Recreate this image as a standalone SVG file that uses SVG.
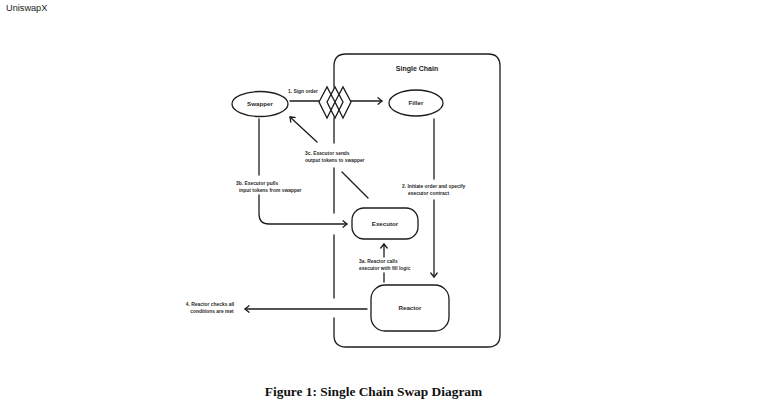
<svg xmlns="http://www.w3.org/2000/svg" width="761" height="403" viewBox="0 0 761 403">
<style>
.ln{fill:none;stroke:#1c1c1c;stroke-width:1.3;stroke-linecap:round}
.nd{fill:#fff;stroke:#1c1c1c;stroke-width:1.3}
.nl{font-family:"Liberation Sans",Arial,sans-serif;font-size:6.2px;font-weight:bold;fill:#2a2a2a;text-anchor:middle}
.lb{font-family:"Liberation Sans",Arial,sans-serif;font-size:4.9px;font-weight:bold;fill:#2a2a2a}
.ttl{font-family:"Liberation Sans",Arial,sans-serif;font-size:7px;font-weight:bold;fill:#1c1c1c;text-anchor:middle}
</style>
<defs>
<marker id="ah" viewBox="0 0 10 10" refX="9" refY="5" markerWidth="8" markerHeight="8" markerUnits="userSpaceOnUse" orient="auto">
<path d="M4,1 L9,5 L4,9" fill="none" stroke="#1c1c1c" stroke-width="1.6" stroke-linecap="round" stroke-linejoin="round"/>
</marker>
</defs>
<rect width="761" height="403" fill="#fff"/>
<text x="6" y="10.5" font-family="Liberation Sans,Arial,sans-serif" font-size="9.2" fill="#222">UniswapX</text>

<g id="single-chain">
<path class="ln" d="M334,87 L334,66 Q334,54 346,54 L488,54 Q500,54 500,66 L500,335 Q500,347 488,347 L346,347 Q334,347 334,335 L334,318"/>
<path class="ln" d="M334,118 L334,143 M334,168 L334,213 M334,235 L334,298"/>
<text class="ttl" x="417" y="70.5">Single Chain</text>
</g>

<g id="connectors">
<line class="ln" x1="290" y1="101" x2="319" y2="101"/>
<line class="ln" x1="351" y1="101" x2="382" y2="101" marker-end="url(#ah)"/>
<text class="lb" x="288" y="93">1. Sign order</text>

<line class="ln" x1="368" y1="198" x2="342" y2="172"/>
<line class="ln" x1="317" y1="142" x2="290" y2="117" marker-end="url(#ah)"/>
<text class="lb" x="305" y="155">3c. Executor sends</text>
<text class="lb" x="305" y="161.5">output tokens to swapper</text>

<line class="ln" x1="434" y1="119" x2="434" y2="179"/>
<line class="ln" x1="434" y1="200" x2="434" y2="277" marker-end="url(#ah)"/>
<text class="lb" x="402" y="188">2. Initiate order and specify</text>
<text class="lb" x="408" y="194.5">executor contract</text>

<line class="ln" x1="259" y1="119" x2="259" y2="175"/>
<path class="ln" d="M259,195 L259,214 Q259,224 269,224 L347,224" marker-end="url(#ah)"/>
<text class="lb" x="236" y="185">3b. Executor pulls</text>
<text class="lb" x="239" y="191.5">input tokens from swapper</text>

<line class="ln" x1="384" y1="282" x2="384" y2="273"/>
<line class="ln" x1="384" y1="257" x2="384" y2="244" marker-end="url(#ah)"/>
<text class="lb" x="359" y="263">3a. Reactor calls</text>
<text class="lb" x="359" y="269.5">executor with fill logic</text>

<line class="ln" x1="367" y1="309" x2="245" y2="309" marker-end="url(#ah)"/>
<text class="lb" x="210" y="306" text-anchor="middle">4. Reactor checks all</text>
<text class="lb" x="212" y="312.5" text-anchor="middle">conditions are met</text>
</g>

<g id="order-stack">
<polygon class="ln" points="319,102 327,87 335,102 327,118"/>
<polygon class="ln" points="327,102 335,87 343,102 335,118"/>
<polygon class="ln" points="335,102 343,87 351,102 343,118"/>
</g>

<g id="swapper">
<ellipse class="nd" cx="260" cy="104" rx="28" ry="12.5"/>
<text class="nl" x="260" y="106.2">Swapper</text>
</g>
<g id="filler">
<ellipse class="nd" cx="416" cy="103" rx="27" ry="13"/>
<text class="nl" x="416" y="105.2">Filler</text>
</g>
<g id="executor">
<rect class="nd" x="352" y="208" width="66" height="31" rx="12"/>
<text class="nl" x="385" y="225.5">Executor</text>
</g>
<g id="reactor">
<rect class="nd" x="371" y="285" width="78" height="46" rx="14"/>
<text class="nl" x="410" y="310">Reactor</text>
</g>

<text x="373.5" y="396" font-family="Liberation Serif,Times New Roman,serif" font-size="13.4" font-weight="bold" fill="#111" text-anchor="middle">Figure 1: Single Chain Swap Diagram</text>
</svg>
